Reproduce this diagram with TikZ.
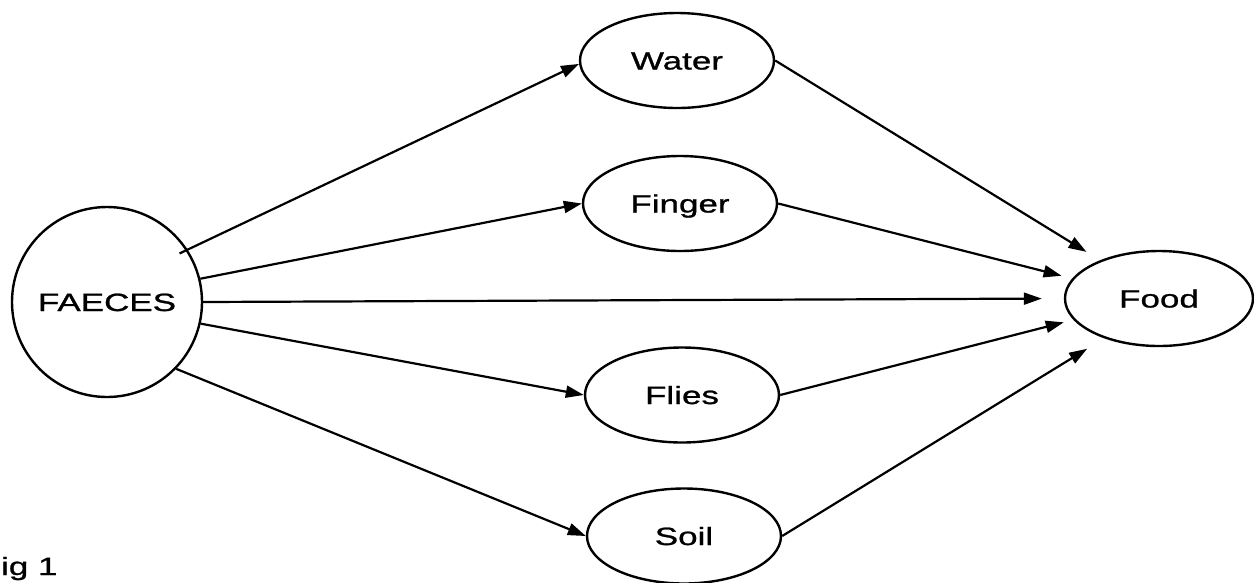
\documentclass[tikz,border=0pt]{standalone}
\usepackage{fontspec}
\setmainfont{Liberation Sans}
\newfontfamily\labelfont[FakeStretch=1.4,FakeBold=1]{Liberation Sans}
\usetikzlibrary{arrows.meta,shapes.geometric}

\tikzset{
  txt/.style={font=\labelfont\fontsize{25}{28}\selectfont, text height=18pt, text depth=0pt},
  source/.style={circle, draw, line width=2.4pt, inner sep=0pt, minimum size=190pt, txt},
  route/.style={ellipse, draw, line width=2.4pt, inner sep=0pt, minimum width=194pt, minimum height=95pt, txt},
  flow/.style={draw, line width=2.2pt, -{Triangle[length=18pt,width=12pt]}}
}

\begin{document}
\begin{tikzpicture}[x=1pt, y=-1pt, line width=2.2pt]
  \useasboundingbox (0,0) rectangle (1254,582);

  % nodes
  \node[source] (faeces) at (107,302) {FAECES};
  \node[route]  (water)  at (677,60.5) {Water};
  \node[route]  (finger) at (680,203.5) {Finger};
  \node[route]  (flies)  at (682,395) {Flies};
  \node[route]  (soil)   at (684,536) {Soil};
  \node[route, minimum width=188pt] (food) at (1159,298.5) {Food};

  % caption
  \node[font=\labelfont\fontsize{25}{28}\selectfont, anchor=base west, inner sep=0pt] (cap) at (0,575) {ig 1};

  % transmission routes from the source
  \draw[flow, shorten <=-9pt] (faeces.33) -- (water.182);
  \draw[flow] (faeces.14.5) -- (finger.west);
  \draw[flow, shorten >=22pt] (faeces.east) -- (food.west);
  \draw[flow] (faeces.-13.6) -- (flies.west);
  \draw[flow] (faeces.-44) -- (soil.west);

  % routes into food
  \draw[flow, shorten >=16pt] (water.east) -- (food.147);
  \draw[flow, shorten >=11pt] (finger.east) -- (food.167);
  \draw[flow, shorten >=10pt] (flies.east) -- (food.194);
  \draw[flow, shorten >=20pt] (soil.east) -- (food.216);
\end{tikzpicture}
\end{document}
